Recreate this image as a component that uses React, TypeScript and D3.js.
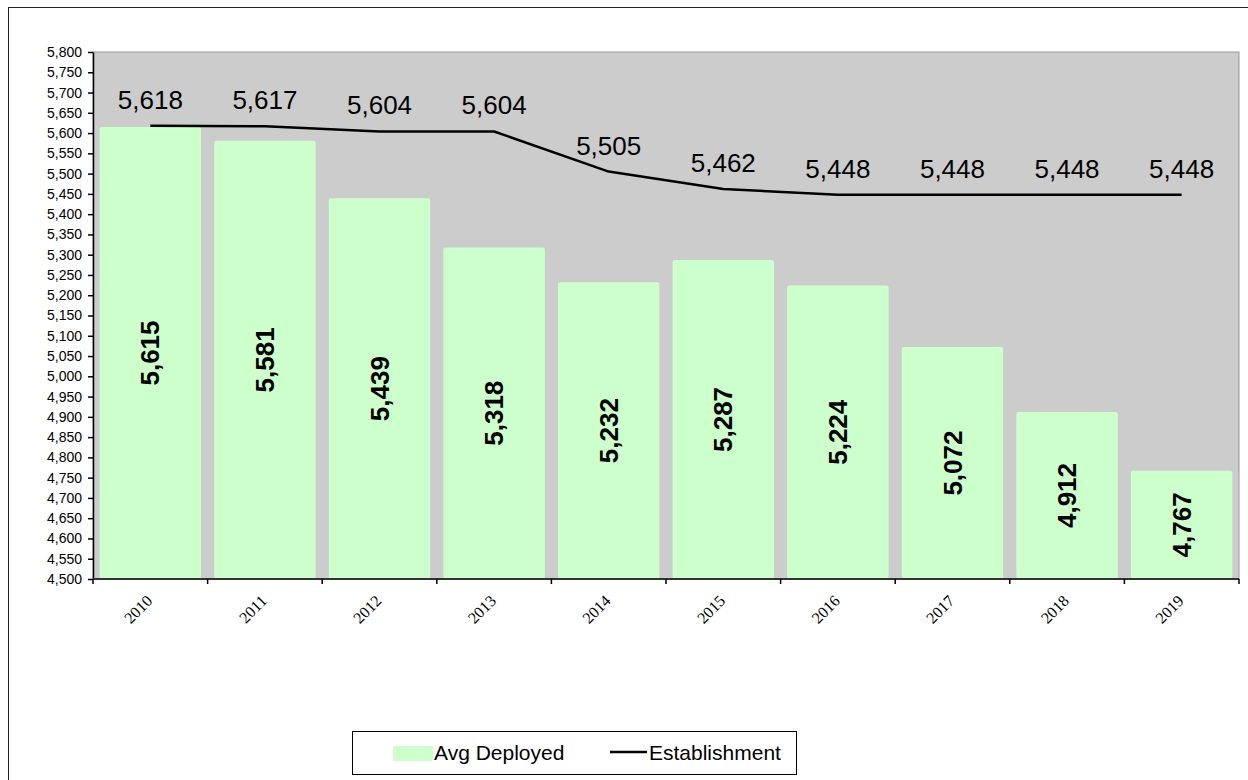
import React, { useEffect, useRef } from 'react';
import * as d3 from 'd3';

const years = ['2010', '2011', '2012', '2013', '2014', '2015', '2016', '2017', '2018', '2019'];
const avgDeployed = [5615, 5581, 5439, 5318, 5232, 5287, 5224, 5072, 4912, 4767];
const establishment = [5618, 5617, 5604, 5604, 5505, 5462, 5448, 5448, 5448, 5448];
const yTicks = d3.range(4500, 5801, 50);

const W = 1248;
const H = 780;

const App = () => {
    const svgRef = useRef(null);

    useEffect(() => {
        const svg = d3.select(svgRef.current);
        svg.selectAll('*').remove();

        const margin = { top: 52, right: 9, bottom: 201, left: 93 };
        const fmt = d3.format(',');
        const sans = '"Liberation Sans", Arial, sans-serif';

        // outer chart border (runs off page right/bottom)
        svg.append('rect')
            .attr('x', 8.5).attr('y', 7.5)
            .attr('width', W + 20).attr('height', H + 20)
            .attr('fill', 'white')
            .attr('stroke', '#222').attr('stroke-width', 1);

        const x = d3.scaleBand()
            .domain(years)
            .range([margin.left, W - margin.right])
            .paddingInner(0.115)
            .paddingOuter(0.058);

        const y = d3.scaleLinear()
            .domain([4500, 5800])
            .range([H - margin.bottom, margin.top]);

        // plot area
        svg.append('rect')
            .attr('x', margin.left).attr('y', margin.top)
            .attr('width', W - margin.right - margin.left)
            .attr('height', H - margin.bottom - margin.top)
            .attr('fill', '#cccccc')
            .attr('stroke', '#999').attr('stroke-width', 1);

        // bars
        svg.append('g')
            .selectAll('rect')
            .data(years)
            .join('rect')
            .attr('x', d => x(d))
            .attr('y', (d, i) => y(avgDeployed[i]))
            .attr('width', x.bandwidth())
            .attr('height', (d, i) => y(4500) - y(avgDeployed[i]))
            .attr('rx', 2)
            .attr('fill', '#ccffcc');

        // bar labels
        svg.append('g')
            .selectAll('text')
            .data(years)
            .join('text')
            .attr('transform', (d, i) => {
                const cx = x(d) + x.bandwidth() / 2;
                const cy = (y(avgDeployed[i]) + y(4500)) / 2;
                return `translate(${cx},${cy}) rotate(-90)`;
            })
            .attr('text-anchor', 'middle')
            .attr('dy', '0.35em')
            .style('font-family', sans)
            .style('font-size', '26px')
            .style('font-weight', 'bold')
            .text((d, i) => fmt(avgDeployed[i]));

        // y axis
        svg.append('g')
            .attr('transform', `translate(${margin.left},0)`)
            .call(d3.axisLeft(y).tickValues(yTicks).tickFormat(fmt).tickSize(5).tickSizeOuter(0))
            .call(g => g.select('.domain').attr('stroke', '#000').attr('stroke-width', 1.5))
            .call(g => g.selectAll('.tick line').attr('stroke', '#000').attr('stroke-width', 1.5))
            .selectAll('text')
            .attr('x', -11)
            .attr('fill', '#000')
            .style('font-family', sans)
            .style('font-size', '14px');

        // x axis
        const xa = svg.append('g')
            .attr('transform', `translate(0,${H - margin.bottom})`);
        xa.append('line')
            .attr('x1', margin.left).attr('x2', W - margin.right)
            .attr('stroke', '#333').attr('stroke-width', 2);
        const span = W - margin.right - margin.left;
        xa.selectAll('.tk')
            .data(d3.range(years.length + 1))
            .join('line')
            .attr('x1', i => margin.left + (i * span) / years.length)
            .attr('x2', i => margin.left + (i * span) / years.length)
            .attr('y1', 0).attr('y2', 5)
            .attr('stroke', '#000').attr('stroke-width', 1.5);
        xa.selectAll('.yl')
            .data(years)
            .join('text')
            .attr('transform', d => `translate(${x(d) + x.bandwidth() / 2 - 1},${19}) rotate(-45)`)
            .attr('text-anchor', 'end')
            .attr('dy', '0.35em')
            .style('font-family', '"Liberation Serif", "Times New Roman", serif')
            .style('font-size', '16px')
            .text(d => d);

        // establishment line
        const line = d3.line()
            .x((d, i) => x(years[i]) + x.bandwidth() / 2)
            .y(d => y(d));
        svg.append('path')
            .datum(establishment)
            .attr('d', line)
            .attr('fill', 'none')
            .attr('stroke', '#000')
            .attr('stroke-width', 2.5)
            .attr('stroke-linejoin', 'round');

        svg.append('g')
            .selectAll('text')
            .data(establishment)
            .join('text')
            .attr('x', (d, i) => x(years[i]) + x.bandwidth() / 2)
            .attr('y', d => y(d) - 17)
            .attr('text-anchor', 'middle')
            .style('font-family', sans)
            .style('font-size', '26px')
            .text(d => fmt(d));

        // legend
        const lg = svg.append('g').attr('transform', 'translate(352,731)');
        lg.append('rect')
            .attr('x', 0.5).attr('y', 0.5)
            .attr('width', 444).attr('height', 43)
            .attr('fill', 'white')
            .attr('stroke', '#000').attr('stroke-width', 1);
        lg.append('rect')
            .attr('x', 41).attr('y', 15)
            .attr('width', 40).attr('height', 15)
            .attr('rx', 2)
            .attr('fill', '#ccffcc');
        lg.append('text')
            .attr('x', 82).attr('y', 22).attr('dy', '0.35em')
            .style('font-family', sans)
            .style('font-size', '21px')
            .text('Avg Deployed');
        lg.append('line')
            .attr('x1', 258).attr('x2', 295)
            .attr('y1', 21).attr('y2', 21)
            .attr('stroke', '#000').attr('stroke-width', 2.5);
        lg.append('text')
            .attr('x', 297).attr('y', 22).attr('dy', '0.35em')
            .style('font-family', sans)
            .style('font-size', '21px')
            .text('Establishment');
    }, []);

    return (
        <div style={{ position: 'fixed', left: 0, top: 0, width: W, height: H, background: 'white' }}>
            <svg ref={svgRef} width={W} height={H} style={{ display: 'block' }} />
        </div>
    );
};

export default App;
